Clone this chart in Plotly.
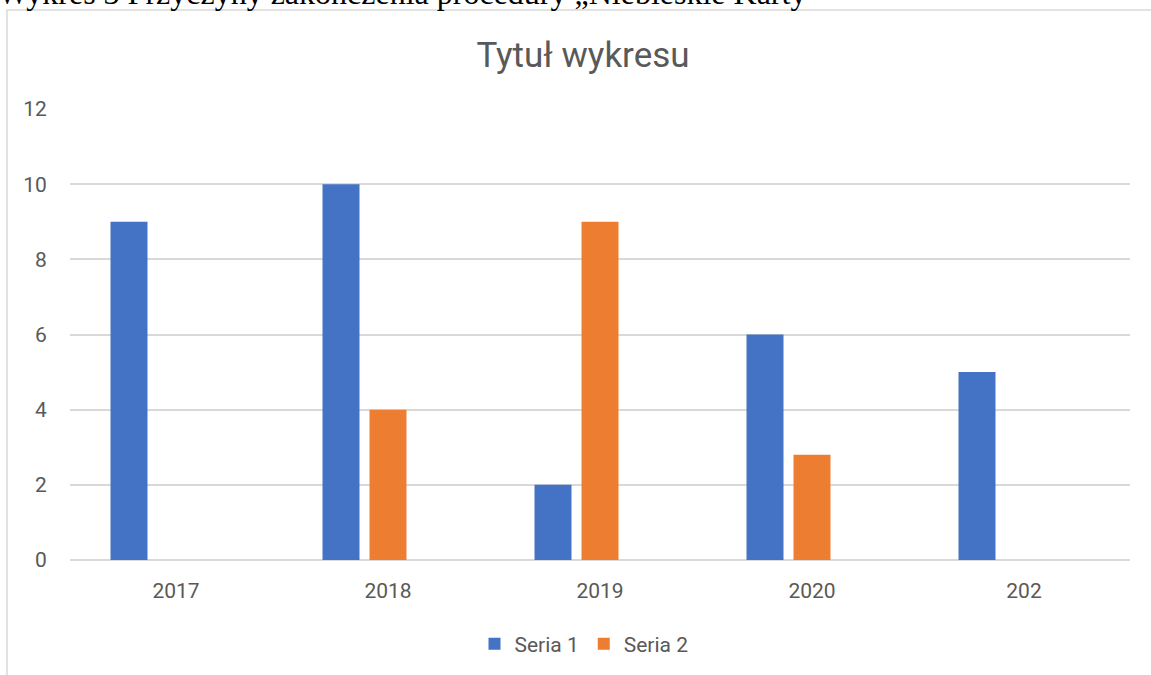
import plotly.graph_objects as go

categories = ["2017", "2018", "2019", "2020", "202"]
seria1 = [9, 10, 2, 6, 5]
seria2 = [None, 4, 9, 2.8, None]
seria3 = [0, 0, 0, 0, 0]  # empty third series (reserves a slot, as in Excel)

W, H = 1151, 675
# plot area in page pixels: x 70..1130, y 109..560
PX0, PX1, PY0, PY1 = 70, 1130, 109, 560
L, T = PX0, PY0
R, B = W - PX1, H - PY1
pw, ph = PX1 - PX0, PY1 - PY0

def px_x(x):
    return (x - PX0) / pw

def px_y(y):
    return (PY1 - y) / ph

txt = "#595959"
grid = "#D9D9D9"

fig = go.Figure()
fig.add_trace(go.Bar(name="Seria 1", x=categories, y=seria1, marker=dict(color="#4472C4", line=dict(width=0))))
fig.add_trace(go.Bar(name="Seria 2", x=categories, y=seria2, marker=dict(color="#ED7D31", line=dict(width=0))))
fig.add_trace(go.Bar(name="Seria 3", x=categories, y=seria3, showlegend=False,
                     marker=dict(color="rgba(0,0,0,0)", line=dict(width=0)), hoverinfo="skip"))

fig.update_layout(
    width=W, height=H,
    margin=dict(l=L, r=R, t=T, b=B, autoexpand=False),
    paper_bgcolor="white", plot_bgcolor="white",
    barmode="group", bargap=0.335, bargroupgap=0.213,
    font=dict(family="Roboto", color=txt, size=21),
    title=dict(text="Tytuł wykresu", x=583 / W, xanchor="center", y=1 - 55 / H,
               yanchor="middle", xref="container", yref="container",
               font=dict(family="Roboto", size=35, color=txt)),
    showlegend=True,
    legend=dict(orientation="h", x=px_x(584), xanchor="center", y=px_y(644), yanchor="middle",
                font=dict(family="Roboto", size=21, color=txt), traceorder="normal"),
    xaxis=dict(showgrid=False, showline=False, zeroline=False, ticks="outside", ticklen=12,
               tickcolor="rgba(0,0,0,0)", tickfont=dict(size=21, color=txt), fixedrange=True),
    yaxis=dict(range=[0, 12], dtick=2, tick0=0, showgrid=True, gridcolor=grid, gridwidth=1.5,
               zeroline=True, zerolinecolor=grid, zerolinewidth=1.5, showline=False,
               ticks="outside", ticklen=18, tickcolor="rgba(0,0,0,0)",
               tickfont=dict(size=21, color=txt), fixedrange=True),
)

# chart area border (extends beyond the visible page on right and bottom)
fig.add_shape(type="rect", xref="paper", yref="paper",
              x0=px_x(7), x1=px_x(1175), y0=px_y(720), y1=px_y(10),
              line=dict(color=grid, width=1.5), fillcolor="rgba(0,0,0,0)", layer="below")

# caption of the document, cut off at the top
fig.add_annotation(text="Wykres 3 Przyczyny zakończenia procedury „Niebieskie Karty”",
                   xref="paper", yref="paper", x=px_x(-4), y=px_y(-7), xanchor="left", yanchor="middle",
                   showarrow=False, font=dict(family="Liberation Serif", size=32, color="black"))

fig.write_html("out.html", config={"displayModeBar": False},
               post_script="document.body.style.margin='0';document.body.style.overflow='hidden';")
